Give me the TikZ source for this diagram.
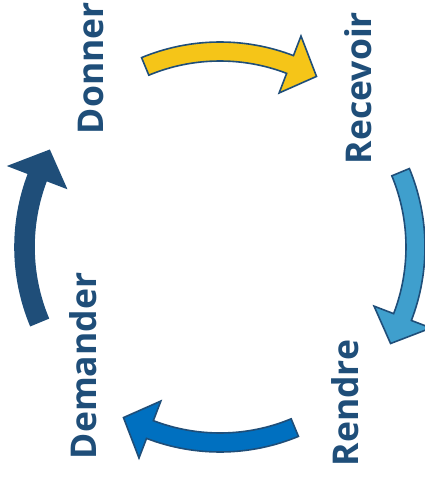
\documentclass[tikz,border=0pt]{standalone}
\usepackage{fontspec}
\setmainfont{Open Sans}
\usepackage{tikz}
\usetikzlibrary{calc}
\definecolor{darkblue}{HTML}{1F4E79}
\definecolor{midblue}{HTML}{0070C0}
\definecolor{lightblue}{HTML}{3F9FCD}
\definecolor{gold}{HTML}{F5C518}
\tikzstyle{lbl}=[rotate=90, inner sep=0pt, text=darkblue, font=\fontsize{35.5}{40}\selectfont\bfseries]
\tikzstyle{blockarrow}=[draw=darkblue, line width=1.6pt, line join=miter]
% curved block arrow: tail angle, head base angle, tip angle
\newcommand{\cyclearrow}[4]{%
  \draw[blockarrow, fill=#4] (#1:186) arc[start angle=#1, end angle=#2, radius=186]
    -- (#2:165) -- (#3:196) -- (#2:226) -- (#2:205)
    arc[start angle=#2, end angle=#1, radius=205] -- cycle;}

\begin{document}
\begin{tikzpicture}[x=1pt,y=1pt]
\useasboundingbox (-220,-244) rectangle (204,247);
\node (donner) at (-129,179)[lbl] {Donner};
\node (recevoir) at (138,159)[lbl] {Recevoir};
\node (rendre) at (125,-156)[lbl] {Rendre};
\node (demander) at (-137,-119)[lbl] {Demander};
\cyclearrow{112.5}{69}{60.5}{gold}
\cyclearrow{22.5}{-21}{-29.5}{lightblue}
\cyclearrow{-67.5}{-111}{-119.5}{midblue}
\cyclearrow{-157.5}{-201}{-209.5}{darkblue}
\end{tikzpicture}
\end{document}
